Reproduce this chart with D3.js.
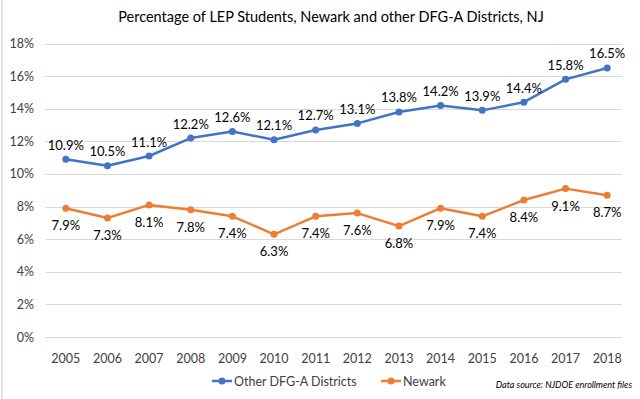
<!DOCTYPE html>
<html><head><meta charset="utf-8">
<script src="https://cdn.jsdelivr.net/npm/d3@7"></script>
<style>body{margin:0;background:#fff}svg{display:block;font-family:Lato,"Open Sans",sans-serif}</style>
</head><body><svg id="c" width="640" height="399"></svg>
<script>
const years = ["2005","2006","2007","2008","2009","2010","2011","2012","2013","2014","2015","2016","2017","2018"];
const otherDFGA = [10.9,10.5,11.1,12.2,12.6,12.1,12.7,13.1,13.8,14.2,13.9,14.4,15.8,16.5];
const newark = [7.9,7.3,8.1,7.8,7.4,6.3,7.4,7.6,6.8,7.9,7.4,8.4,9.1,8.7];
const yTicks = [0,2,4,6,8,10,12,14,16,18];
const seriesNames = ["Other DFG-A Districts","Newark"];

const svg = d3.select("#c");
const W=640,H=399;
const x = d3.scaleBand().domain(years).range([45,628]);
const y = d3.scaleLinear().domain([0,18]).range([337,43.5]);
const cx = d => x(d)+x.bandwidth()/2;

svg.append("line").attr("x1",2).attr("x2",2).attr("y1",0).attr("y2",H).attr("stroke","#e3e3e3").attr("stroke-width",2);

svg.append("text").attr("x",331).attr("y",22).attr("text-anchor","middle").attr("font-size",14.5).attr("fill","#000").text("Percentage of LEP Students, Newark and other DFG-A Districts, NJ");

// grid
svg.append("g").selectAll("line").data(yTicks).join("line")
 .attr("x1",45).attr("x2",622).attr("y1",d=>Math.round(y(d))+0.5).attr("y2",d=>Math.round(y(d))+0.5)
 .attr("stroke","#d9d9d9").attr("stroke-width",1);

// y axis
const ya = svg.append("g").attr("transform","translate(34,0)").call(d3.axisLeft(y).tickValues(yTicks).tickFormat(d=>d+"%").tickSize(0).tickPadding(0));
ya.select(".domain").remove();
ya.selectAll("text").attr("font-size",12.5).attr("fill","#404040").attr("font-family","Lato,sans-serif");

// x axis
const xa = svg.append("g").attr("transform","translate(0,348)").call(d3.axisBottom(x).tickSize(0).tickPadding(6));
xa.select(".domain").remove();
xa.selectAll("text").attr("font-size",12.5).attr("fill","#404040").attr("font-family","Lato,sans-serif");

const line = d3.line().x((d,i)=>cx(years[i])).y(d=>y(d));
const series = [{v:otherDFGA,c:"#4472C4",dy:-9.5},{v:newark,c:"#ED7D31",dy:22}];
series.forEach(s=>{
  svg.append("path").datum(s.v).attr("d",line).attr("fill","none").attr("stroke",s.c).attr("stroke-width",2.5).attr("stroke-linejoin","round");
  svg.append("g").selectAll("circle").data(s.v).join("circle").attr("cx",(d,i)=>cx(years[i])).attr("cy",d=>y(d)).attr("r",3.5).attr("fill",s.c);
  svg.append("g").selectAll("text").data(s.v).join("text").attr("x",(d,i)=>cx(years[i])).attr("y",d=>y(d)+s.dy)
   .attr("text-anchor","middle").attr("font-size",13).attr("fill","#000").text(d=>d.toFixed(1)+"%");
});

// legend
const lg = svg.append("g").attr("transform","translate(0,381)");
[[212,seriesNames[0],"#4472C4"],[381,seriesNames[1],"#ED7D31"]].forEach(([lx,t,c])=>{
  lg.append("line").attr("x1",lx).attr("x2",lx+20).attr("y1",0).attr("y2",0).attr("stroke",c).attr("stroke-width",2.5);
  lg.append("circle").attr("cx",lx+10).attr("cy",0).attr("r",3.5).attr("fill",c);
  lg.append("text").attr("x",lx+22).attr("y",4.5).attr("font-size",12.5).attr("fill","#404040").text(t);
});
svg.append("text").attr("x",632).attr("y",388).attr("text-anchor","end").attr("font-size",9).attr("font-style","italic").attr("fill","#000").text("Data source: NJDOE enrollment files");
</script></body></html>
